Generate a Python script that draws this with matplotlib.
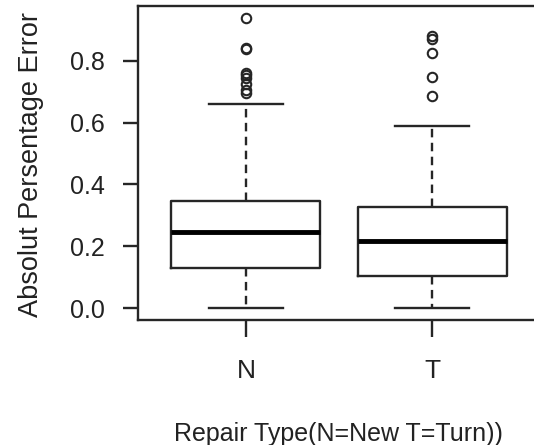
import matplotlib
matplotlib.use("Agg")
import matplotlib.pyplot as plt

# values
groups = ["N", "T"]
whislo = [0.0, 0.0]
q1 = [0.130, 0.103]
med = [0.245, 0.217]
q3 = [0.348, 0.327]
whishi = [0.660, 0.589]
fliers_n = [0.937, 0.840, 0.836, 0.761, 0.755, 0.743, 0.724, 0.705, 0.695]
fliers_t = [0.879, 0.869, 0.826, 0.748, 0.686]
yticks = [0.0, 0.2, 0.4, 0.6, 0.8]

plt.rcParams["font.family"] = ["Liberation Sans", "DejaVu Sans"]
line_c = "#262626"
text_c = "#222222"

fig = plt.figure(figsize=(5.34, 4.45), dpi=100)
ax = fig.add_axes([0.2584, 0.2809, 0.753, 0.7067])

stats = []
for i, name in enumerate(groups):
    stats.append({
        "label": name, "whislo": whislo[i], "q1": q1[i], "med": med[i],
        "q3": q3[i], "whishi": whishi[i],
        "fliers": fliers_n if i == 0 else fliers_t,
    })

ax.bxp(stats, positions=[1, 2], widths=0.8, capwidths=0.4,
       boxprops=dict(color=line_c, linewidth=1.7),
       medianprops=dict(color="black", linewidth=3.5, solid_capstyle="butt"),
       whiskerprops=dict(color=line_c, linewidth=1.7, linestyle=(0, (3.6, 2.3))),
       capprops=dict(color=line_c, linewidth=1.7),
       flierprops=dict(marker="o", markersize=6.8, markerfacecolor="none",
                       markeredgecolor=line_c, markeredgewidth=1.5))

ax.set_xlim(0.42, 2.58)
ax.set_ylim(-0.0376, 0.978)
ax.set_yticks(yticks)
ax.set_yticklabels([f"{v:.1f}" for v in yticks])
ax.set_xticks([1, 2])
ax.set_xticklabels(groups)

for s in ax.spines.values():
    s.set_color(line_c)
    s.set_linewidth(1.7)

ax.tick_params(axis="y", length=11, width=1.7, pad=13, color=line_c,
               labelsize=18, labelcolor=text_c)
ax.tick_params(axis="x", length=12, width=1.7, pad=16, color=line_c,
               labelsize=19, labelcolor=text_c)

ax.set_ylabel("Absolut Persentage Error", fontsize=19.5, color=text_c)
ax.yaxis.set_label_coords(-0.267, 0.496)
ax.yaxis.label.set_va("center")
ax.set_xlabel("Repair Type(N=New T=Turn))", fontsize=18, color=text_c)
ax.xaxis.set_label_coords(0.4975, -0.362)
ax.xaxis.label.set_va("center")

fig.savefig("out.png", dpi=100)
